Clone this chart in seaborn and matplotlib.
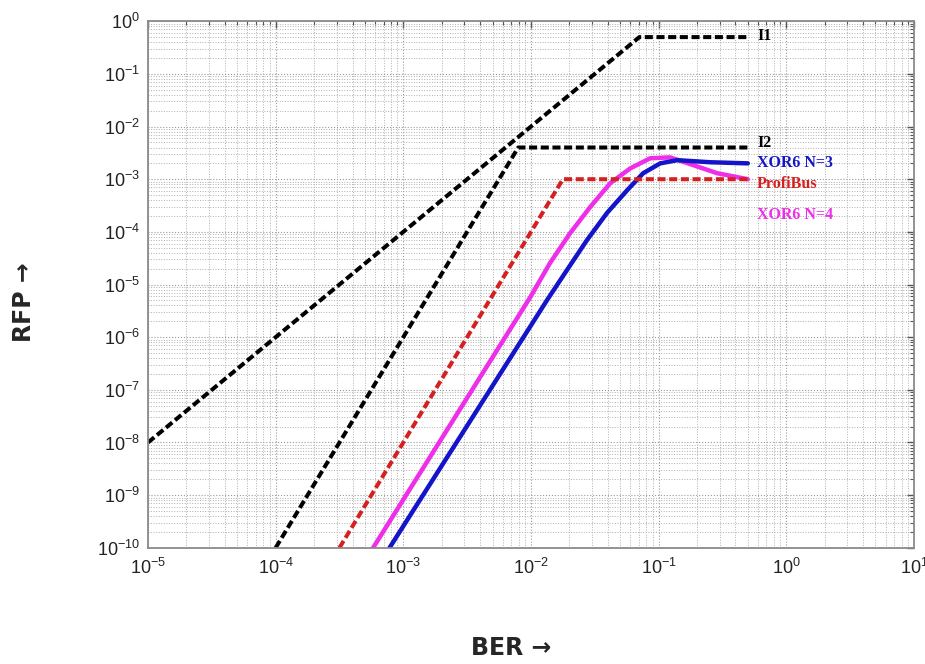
import matplotlib
matplotlib.use("Agg")
import matplotlib.pyplot as plt
import matplotlib.ticker as mticker
import numpy as np
import seaborn as sns

# Piecewise bounds (BER, RFP)
i1_ber = [1e-5, 0.0707, 0.5]
i1_rfp = [1e-8, 0.5, 0.5]

i2_ber = [1e-4, 0.00795, 0.5]
i2_rfp = [1e-10, 4e-3, 4e-3]

pb_ber = [3.16e-4, 0.0178, 0.5]
pb_rfp = [1e-10, 1e-3, 1e-3]

# XOR6 residual error probability curves
xor3_ber = [7.8e-4, 0.0134, 0.0192, 0.0275, 0.0395, 0.0568, 0.0757,
            0.103, 0.140, 0.254, 0.5]
xor3_rfp = [1e-10, 5.1e-6, 1.9e-5, 7.0e-5, 2.3e-4, 6.2e-4, 1.3e-3,
            2.0e-3, 2.3e-3, 2.1e-3, 2.0e-3]

xor4_ber = [5.8e-4, 9.9e-3, 0.0141, 0.0203, 0.0291, 0.0418, 0.0598,
            0.0859, 0.123, 0.187, 0.288, 0.5]
xor4_rfp = [1e-10, 5.8e-6, 2.56e-5, 9.5e-5, 2.96e-4, 8.4e-4, 1.6e-3,
            2.5e-3, 2.6e-3, 1.85e-3, 1.3e-3, 1.0e-3]

labels = ["I1", "I2", "XOR6 N=3", "ProfiBus", "XOR6 N=4"]
label_rfp = [0.52, 4.8e-3, 2.0e-3, 8.1e-4, 2.1e-4]
label_colors = ["black", "black", "#1414c8", "#d42020", "#ee2ee8"]

x_ticks = [1e-5, 1e-4, 1e-3, 1e-2, 1e-1, 1e0, 1e1]
y_ticks = [1e-10, 1e-9, 1e-8, 1e-7, 1e-6, 1e-5, 1e-4, 1e-3, 1e-2, 1e-1, 1e0]

sns.set_style("white")
plt.rcParams["font.family"] = ["Liberation Sans", "DejaVu Sans"]
plt.rcParams["mathtext.fontset"] = "custom"
plt.rcParams["mathtext.rm"] = "Liberation Sans"
plt.rcParams["mathtext.default"] = "regular"
plt.rcParams["axes.unicode_minus"] = False

fig = plt.figure(figsize=(9.25, 6.64), dpi=100)
ax = fig.add_axes([0.16, 0.175, 0.828, 0.793])

dash = (0, (2.0, 0.9))
lw = 2.9

sns.lineplot(x=i1_ber, y=i1_rfp, ax=ax, color="black", lw=lw, linestyle=dash)
sns.lineplot(x=i2_ber, y=i2_rfp, ax=ax, color="black", lw=lw, linestyle=dash)
sns.lineplot(x=xor4_ber, y=xor4_rfp, ax=ax, color="#ee2ee8", lw=3.2)
sns.lineplot(x=xor3_ber, y=xor3_rfp, ax=ax, color="#1414c8", lw=3.2)
sns.lineplot(x=pb_ber, y=pb_rfp, ax=ax, color="#d42020", lw=lw, linestyle=dash)

ax.set_xscale("log")
ax.set_yscale("log")
ax.set_xlim(1e-5, 1e1)
ax.set_ylim(1e-10, 1e0)

ax.xaxis.set_major_locator(mticker.FixedLocator(x_ticks))
ax.yaxis.set_major_locator(mticker.FixedLocator(y_ticks))
ax.xaxis.set_minor_locator(mticker.LogLocator(base=10, subs=np.arange(2, 10), numticks=20))
ax.yaxis.set_minor_locator(mticker.LogLocator(base=10, subs=np.arange(2, 10), numticks=30))
ax.xaxis.set_major_formatter(mticker.LogFormatterSciNotation())
ax.yaxis.set_major_formatter(mticker.LogFormatterSciNotation())

ax.grid(True, which="major", color="#9a9a9a", linestyle=":", linewidth=0.8)
ax.grid(True, which="minor", color="#b0b0b0", linestyle=":", linewidth=0.7)

ax.tick_params(which="both", direction="in", top=True, right=True,
               colors="#555555", labelcolor="#222222", labelsize=13)
ax.tick_params(which="major", length=5, width=1)
ax.tick_params(which="minor", length=3, width=0.8)
ax.tick_params(axis="x", pad=7)
ax.tick_params(axis="y", pad=6)

for s in ax.spines.values():
    s.set_color("#8a8a8a")
    s.set_linewidth(1.3)

for txt, yv, c in zip(labels, label_rfp, label_colors):
    ax.text(0.59, yv, txt, color=c, fontsize=11.5, fontweight="bold",
            family=["Liberation Serif", "DejaVu Serif"], va="center", ha="left")

ax.set_xlabel("")
ax.set_ylabel("")
fig.text(0.553, 0.024, "BER \u2192", ha="center", va="center", fontsize=17,
         fontweight="bold", family=["DejaVu Sans"])
fig.text(0.026, 0.545, "RFP \u2192", ha="center", va="center", rotation=90,
         fontsize=17, fontweight="bold", family=["DejaVu Sans"])

fig.savefig("out.png", dpi=100, facecolor="white")
